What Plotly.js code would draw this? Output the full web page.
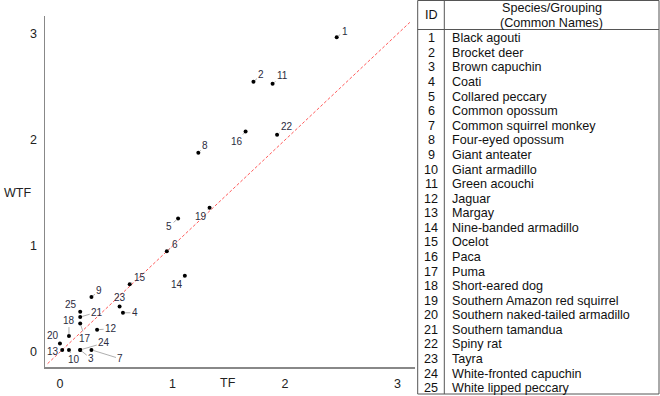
<!DOCTYPE html>
<html>
<head>
<meta charset="utf-8">
<script src="https://cdn.plot.ly/plotly-3.0.1.min.js"></script>
<style>html,body{margin:0;padding:0;background:#fff;}#chart{width:660px;height:396px;}</style>
</head>
<body>
<div id="chart"></div>
<script>
// ---- data ----
var ids = [1,2,3,4,5,6,7,8,9,10,11,12,13,14,15,16,17,18,19,20,21,22,23,24,25];
var names = ["Black agouti","Brocket deer","Brown capuchin","Coati","Collared peccary","Common opossum","Common squirrel monkey","Four-eyed opossum","Giant anteater","Giant armadillo","Green acouchi","Jaguar","Margay","Nine-banded armadillo","Ocelot","Paca","Puma","Short-eared dog","Southern Amazon red squirrel","Southern naked-tailed armadillo","Southern tamandua","Spiny rat","Tayra","White-fronted capuchin","White lipped peccary"];
var tf  = [2.46,1.72,0.18,0.56,1.05,0.95,0.28,1.23,0.28,0.08,1.89,0.33,0.02,1.11,0.62,1.65,0.18,0.08,1.33,0.00,0.18,1.93,0.53,0.18,0.18];
var wtf = [2.97,2.55,0.02,0.37,1.26,0.95,0.02,1.88,0.52,0.02,2.53,0.21,0.02,0.72,0.64,2.08,0.27,0.15,1.36,0.08,0.33,2.05,0.43,0.02,0.38];
var refLine = [-0.11, 3.11];
var xTicks = [0,1,2,3];
var yTicks = [0,1,2,3];

// ---- label offsets (pixels, style only) ----
var dx = [8,8,11,12,-9,8,29,7,8,5,10,14,-9,-8,10,-9,5,0,-9,-7,17,10,0,24,-9];
var dy = [-6,-7,9,0,8,-7,9,-7,-6,10,-8,-1,2,9,-7,10,15,-16,9,-8,-5,-8,-9,-7,-7];

var L = 45, R = 415, T = 16, B = 367, W = 660, H = 396;
function px(X){ return (X - L) / (R - L); }
function py(Y){ return (B - Y) / (B - T); }

var traces = [
  {x: refLine, y: refLine, mode: 'lines', line: {color: '#ff5a5a', width: 1, dash: '3px,2px'}, hoverinfo: 'skip'},
  {x: tf, y: wtf, mode: 'markers', marker: {color: '#000', size: 4}, text: names}
];

var ann = [];
for (var i = 0; i < ids.length; i++) {
  var d = Math.sqrt(dx[i]*dx[i] + dy[i]*dy[i]);
  ann.push({x: tf[i], y: wtf[i], xref: 'x', yref: 'y', text: String(ids[i]),
    showarrow: true, arrowhead: 0, arrowwidth: 0.8, arrowcolor: d > 9 ? '#999' : '#bbb', standoff: 2,
    ax: dx[i], ay: dy[i], font: {family: 'Liberation Sans, Arial', size: 10, color: '#2b2b40'}});
}
function pAnn(X, Y, text, font, xa) {
  return {xref: 'paper', yref: 'paper', x: px(X), y: py(Y), text: text, showarrow: false,
    font: font, xanchor: xa || 'center', yanchor: 'middle'};
}
var axFont = {family: 'Liberation Sans, Arial', size: 12.5, color: '#222'};
ann.push(pAnn(17.5, 193, 'WTF', axFont));
ann.push(pAnn(228, 383, 'TF', axFont));

// table
var tFont = {family: 'Liberation Sans, Arial', size: 12.6, color: '#111'};
ann.push(pAnn(431, 15, 'ID', tFont));
ann.push(pAnn(551.7, 8.3, 'Species/Grouping', tFont));
ann.push(pAnn(551.7, 22.7, '(Common Names)', tFont));
for (var j = 0; j < ids.length; j++) {
  var yy = 38.3 + j * 14.58;
  ann.push(pAnn(431, yy, String(ids[j]), tFont, 'center'));
  ann.push(pAnn(450, yy, names[j], tFont, 'left'));
}

var lc = '#555';
var shapes = [
  {type: 'rect', xref: 'paper', yref: 'paper', x0: px(417.7), x1: px(659), y0: py(0.5), y1: py(394), line: {color: lc, width: 1}},
  {type: 'line', xref: 'paper', yref: 'paper', x0: px(444.3), x1: px(444.3), y0: py(0.5), y1: py(394), line: {color: lc, width: 1}},
  {type: 'line', xref: 'paper', yref: 'paper', x0: px(417.7), x1: px(659), y0: py(29.5), y1: py(29.5), line: {color: lc, width: 1}}
];

var layout = {
  width: W, height: H,
  margin: {l: L, r: W - R, t: T, b: H - B, pad: 0},
  paper_bgcolor: '#fff', plot_bgcolor: '#fff',
  showlegend: false,
  font: {family: 'Liberation Sans, Arial', color: '#222'},
  xaxis: {range: [-0.133, 3.156], tickvals: xTicks, ticktext: xTicks.map(String), showgrid: false, zeroline: false,
    showline: true, linecolor: '#888', linewidth: 1.5, ticks: '', ticklabelstandoff: 4,
    tickfont: {size: 12.5, color: '#222'}},
  yaxis: {range: [-0.1415, 3.17], tickvals: yTicks, ticktext: yTicks.map(String), showgrid: false, zeroline: false,
    showline: true, linecolor: '#888', linewidth: 1.5, ticks: '', ticklabelstandoff: 4,
    tickfont: {size: 12.5, color: '#222'}},
  annotations: ann,
  shapes: shapes
};

Plotly.newPlot('chart', traces, layout, {displayModeBar: false, staticPlot: true});
</script>
</body>
</html>
